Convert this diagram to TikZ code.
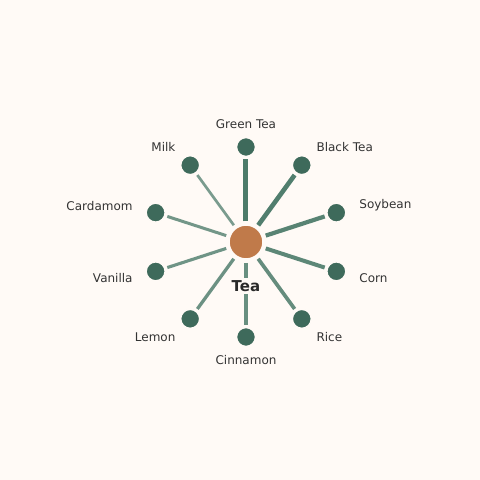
\documentclass[tikz,border=0pt]{standalone}
\usepackage{fontspec}
\setmainfont{DejaVu Sans}
\usepackage{tikz}
\usetikzlibrary{arrows.meta}
\definecolor{paper}{HTML}{FFFAF6}
\definecolor{leafgreen}{HTML}{3E6A5B}
\definecolor{spokegreen}{HTML}{4C7B6A}
\definecolor{hubbrown}{HTML}{C07A4A}
\definecolor{ink}{HTML}{333333}

\begin{document}
\begin{tikzpicture}[x=1pt, y=1pt,
    hub/.style={circle, fill=hubbrown, draw=paper, line width=1.5pt, minimum size=34pt, inner sep=0pt},
    leaf/.style={circle, fill=leafgreen, draw=paper, line width=1.5pt, minimum size=19pt, inner sep=0pt},
    spoke/.style={draw=spokegreen, shorten <=3pt, shorten >=2pt},
    label/.style={font=\fontsize{12}{14}\selectfont, text=ink, inner sep=1pt},
    title/.style={font=\fontsize{15}{18}\selectfont\bfseries, text=ink!80!black, fill=paper, inner sep=2pt}
]
    \fill[paper] (-246,-238) rectangle (234,242);
    \useasboundingbox (-246,-238) rectangle (234,242);

    \node[hub] (tea) at (0,0) {};

    \node[leaf] (green)    at (90:95)   {};
    \node[leaf] (black)    at (54:95)   {};
    \node[leaf] (soybean)  at (18:95)   {};
    \node[leaf] (corn)     at (-18:95)  {};
    \node[leaf] (rice)     at (-54:95)  {};
    \node[leaf] (cinnamon) at (-90:95)  {};
    \node[leaf] (lemon)    at (-126:95) {};
    \node[leaf] (vanilla)  at (-162:95) {};
    \node[leaf] (cardamom) at (162:95)  {};
    \node[leaf] (milk)     at (126:95)  {};

    \draw[spoke, line width=5pt] (tea) -- (green);
    \draw[spoke, line width=4.6pt, draw opacity=0.97] (tea) -- (black);
    \draw[spoke, line width=4.2pt, draw opacity=0.93] (tea) -- (soybean);
    \draw[spoke, line width=4pt, draw opacity=0.9] (tea) -- (corn);
    \draw[spoke, line width=3.7pt, draw opacity=0.86] (tea) -- (rice);
    \draw[spoke, line width=3.5pt, draw opacity=0.84] (tea) -- (cinnamon);
    \draw[spoke, line width=3.3pt, draw opacity=0.82] (tea) -- (lemon);
    \draw[spoke, line width=3.1pt, draw opacity=0.8] (tea) -- (vanilla);
    \draw[spoke, line width=3pt, draw opacity=0.78] (tea) -- (cardamom);
    \draw[spoke, line width=2.7pt, draw opacity=0.74] (tea) -- (milk);

    \node[title] (tealabel) at (0,-44) {Tea};

    \node[label]               (green-l)    at (90:118)   {Green Tea};
    \node[label, anchor=west]  (black-l)    at (54:118)   {Black Tea};
    \node[label, anchor=west]  (soybean-l)  at (18:118)   {Soybean};
    \node[label, anchor=west]  (corn-l)     at (-18:118)  {Corn};
    \node[label, anchor=west]  (rice-l)     at (-54:118)  {Rice};
    \node[label]               (cinnamon-l) at (-90:118)  {Cinnamon};
    \node[label, anchor=east]  (lemon-l)    at (-126:118) {Lemon};
    \node[label, anchor=east]  (vanilla-l)  at (-162:118) {Vanilla};
    \node[label, anchor=east]  (cardamom-l) at (162:118)  {Cardamom};
    \node[label, anchor=east]  (milk-l)     at (126:118)  {Milk};
\end{tikzpicture}
\end{document}
